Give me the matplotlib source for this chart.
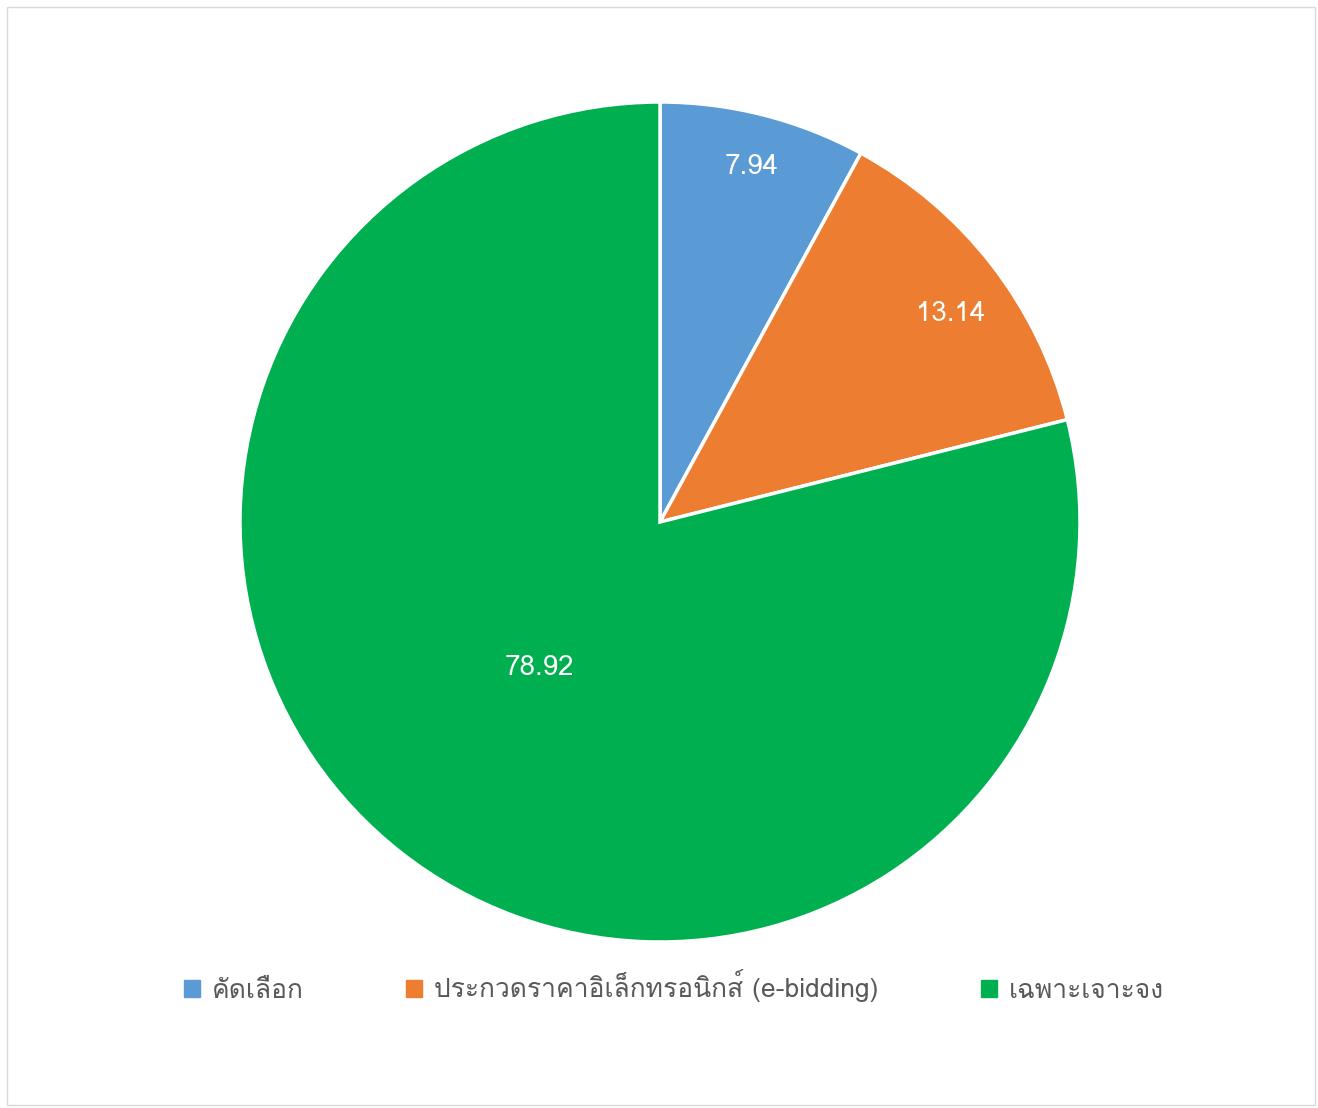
import numpy as np
import matplotlib
matplotlib.use("Agg")
import matplotlib.pyplot as plt
from matplotlib import font_manager as fm
from matplotlib.patches import Rectangle

# data
labels = ["คัดเลือก", "ประกวดราคาอิเล็กทรอนิกส์ (e-bidding)", "เฉพาะเจาะจง"]
values = [7.94, 13.14, 78.92]
colors = ["#5B9BD5", "#ED7D31", "#00B050"]


def thai_font():
    # look for an installed font that has Thai glyphs
    try:
        from fontTools.ttLib import TTFont
    except ImportError:
        return None
    for f in fm.fontManager.ttflist:
        try:
            tt = TTFont(f.fname, fontNumber=0, lazy=True)
            cmap = tt.getBestCmap()
            if cmap and 0x0E04 in cmap and 0x0E40 in cmap:
                return f.name
        except Exception:
            continue
    return None


tf = thai_font()
fams = ([tf] if tf else []) + ["DejaVu Sans"]
plt.rcParams["font.family"] = fams

fig = plt.figure(figsize=(13.18, 11.08), dpi=100)
fig.patches.append(Rectangle((7 / 1318, 3 / 1108), 1308 / 1318, 1098 / 1108,
                             transform=fig.transFigure, fill=False,
                             edgecolor="#D9D9D9", linewidth=1))

# pie centre (660, 522) px, radius 420 px
r = 420
ax = fig.add_axes([(660 - r) / 1318, 1 - (522 + r) / 1108, 2 * r / 1318, 2 * r / 1108])
wedges, _ = ax.pie(values, colors=colors, startangle=90, counterclock=False,
                   wedgeprops=dict(edgecolor="white", linewidth=2.5))
ax.set_aspect("equal")
ax.set_xlim(-1, 1)
ax.set_ylim(-1, 1)

# data labels at differing radii / nudges (like Excel's best fit)
label_r = [0.88, 0.856, 0.445]
label_da = [0.0, -1.8, -2.3]
for w, v, lr, da in zip(wedges, values, label_r, label_da):
    ang = np.deg2rad((w.theta1 + w.theta2) / 2 + da)
    ax.text(lr * np.cos(ang), lr * np.sin(ang), f"{v:.2f}", ha="center",
            va="center_baseline", color="white", fontsize=20)

handles = [Rectangle((0, 0), 1, 1, color=c) for c in colors]
fig.legend(handles, labels, loc="center", bbox_to_anchor=(674 / 1318, 1 - 986 / 1108),
           ncol=3, frameon=False, fontsize=19, labelcolor="#595959",
           handlelength=0.6, handleheight=0.6, handletextpad=0.45, columnspacing=3.9)

fig.savefig("out.png", dpi=100)
